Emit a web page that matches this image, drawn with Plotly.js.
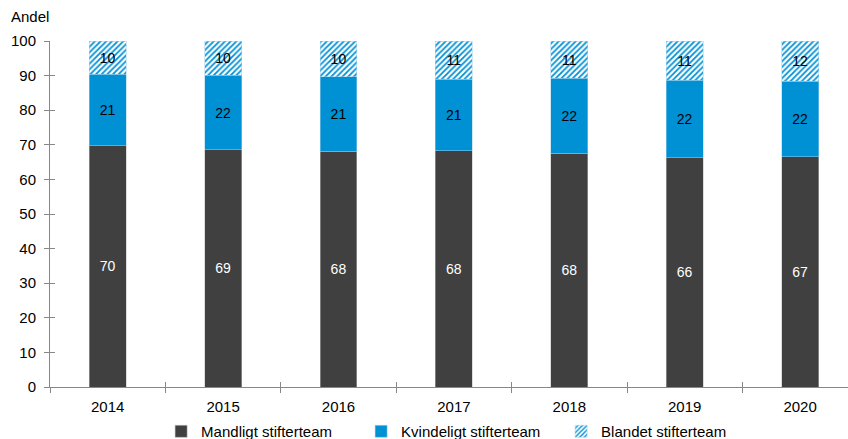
<!DOCTYPE html>
<html>
<head>
<meta charset="utf-8">
<script src="https://cdn.plot.ly/plotly-3.0.1.min.js"></script>
<style>html,body{margin:0;padding:0;background:#fff;}#chart{width:848px;height:439px;}</style>
</head>
<body>
<div id="chart"></div>
<script>
const years = ["2014", "2015", "2016", "2017", "2018", "2019", "2020"];
const mandligt = [69.7, 68.5, 68.2, 68.3, 67.5, 66.2, 66.6];
const kvindeligt = [20.7, 21.6, 21.4, 20.7, 21.7, 22.4, 21.7];
const blandet = [9.6, 9.9, 10.4, 11.0, 10.8, 11.4, 11.7];
const seriesNames = ["Mandligt stifterteam", "Kvindeligt stifterteam", "Blandet stifterteam"];
const yTicks = [0, 10, 20, 30, 40, 50, 60, 70, 80, 90, 100];

const font = "Liberation Sans, Arial, sans-serif";
const dark = "#404040";
const blue = "#0091D5";

const common = {
  type: "bar",
  x: years,
  width: 0.32,
  texttemplate: "%{y:.0f}",
  textposition: "inside",
  insidetextanchor: "middle",
  textangle: 0,
  hoverinfo: "skip"
};

const traces = [
  Object.assign({}, common, {
    name: seriesNames[0], y: mandligt,
    marker: {color: dark, line: {color: "#bbbbbb", width: 0.5}},
    textfont: {color: "#ffffff", size: 14, family: font}
  }),
  Object.assign({}, common, {
    name: seriesNames[1], y: kvindeligt,
    marker: {color: blue, line: {color: "#9fd0ec", width: 0.5}},
    textfont: {color: "#000000", size: 14, family: font}
  }),
  Object.assign({}, common, {
    name: seriesNames[2], y: blandet,
    marker: {color: "#ffffff", line: {color: "#9fd0ec", width: 0.5},
      pattern: {shape: "/", fgcolor: blue, bgcolor: "#ffffff", size: 4, solidity: 0.45}},
    textfont: {color: "#000000", size: 14, family: font}
  }),
  {type: "scatter", x: [], y: [], xaxis: "x2", yaxis: "y2", showlegend: false, hoverinfo: "skip"}
];

const layout = {
  width: 848, height: 439,
  margin: {l: 50, r: 0, t: 41, b: 52},
  paper_bgcolor: "#ffffff", plot_bgcolor: "#ffffff",
  barmode: "stack",
  font: {family: font, size: 15, color: "#000000"},
  showlegend: true,
  legend: {
    orientation: "h", xref: "container", yref: "container",
    x: 0.19, xanchor: "left", y: 0.017, yanchor: "middle",
    font: {family: font, size: 15, color: "#000000"},
    traceorder: "normal", entrywidth: 155, entrywidthmode: "pixels",
    itemclick: false, itemwidth: 30
  },
  xaxis: {
    type: "category", range: [-0.5, 6.415],
    showgrid: false, zeroline: false,
    showline: true, linecolor: "#888888", linewidth: 1,
    ticks: "outside", ticklen: 5, tickcolor: "#888888", tickson: "boundaries",
    ticklabelstandoff: 6,
    tickfont: {family: font, size: 15, color: "#000000"},
    automargin: false
  },
  yaxis: {
    range: [0, 100], tickvals: yTicks,
    showgrid: false, zeroline: false,
    showline: true, linecolor: "#888888", linewidth: 1,
    ticks: "outside", ticklen: 5, tickcolor: "#888888",
    ticklabelstandoff: 5,
    tickfont: {family: font, size: 15, color: "#000000"},
    automargin: false
  },
  xaxis2: {
    overlaying: "x", range: [-0.5, 6.415], tickvals: [0.5, 1.5, 2.5, 3.5, 4.5, 5.5],
    showticklabels: false, showgrid: false, zeroline: false, showline: false,
    ticks: "inside", ticklen: 5, tickcolor: "#888888"
  },
  yaxis2: {
    overlaying: "y", range: [0, 100], tickvals: yTicks,
    showticklabels: false, showgrid: false, zeroline: false, showline: false,
    ticks: "inside", ticklen: 5, tickcolor: "#888888"
  },
  annotations: [{
    text: "Andel", xref: "paper", yref: "paper", x: -0.0515, y: 1.04,
    xanchor: "left", yanchor: "bottom", showarrow: false,
    font: {family: font, size: 15, color: "#000000"}
  }]
};

Plotly.newPlot("chart", traces, layout, {displayModeBar: false, staticPlot: true});
</script>
</body>
</html>
